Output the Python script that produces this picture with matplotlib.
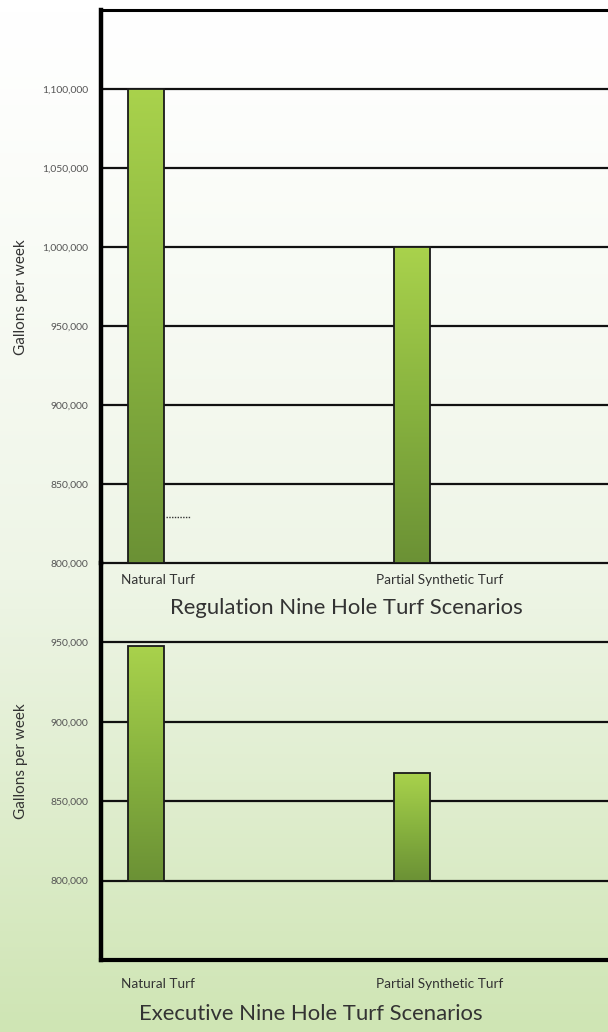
import numpy as np
import matplotlib
matplotlib.use("Agg")
import matplotlib.pyplot as plt
from matplotlib.colors import LinearSegmentedColormap

plt.rcParams['font.family'] = ['Lato', 'DejaVu Sans']

# data
categories = ["Natural Turf", "Partial Synthetic Turf"]
regulation = [1100000, 1000000]
executive = [948000, 868000]
reg_ticks = [800000, 850000, 900000, 950000, 1000000, 1050000, 1100000]
exe_ticks = [800000, 850000, 900000, 950000]
reg_title = "Regulation Nine Hole Turf Scenarios"
exe_title = "Executive Nine Hole Turf Scenarios"
ylabel = "Gallons per week"

W, H = 608, 1032
fig = plt.figure(figsize=(W / 100, H / 100), dpi=100)

# background gradient: white at top, pale green at bottom
bg = fig.add_axes([0, 0, 1, 1], zorder=-10)
ramp = np.linspace(0, 1, 256) ** 1.2
bg_cmap = LinearSegmentedColormap.from_list("bg", ["#ffffff", "#eef5e6", "#cfe5b4"])
bg.imshow(ramp[:, None], aspect="auto", cmap=bg_cmap, extent=[0, 1, 0, 1])
bg.set_axis_off()

bar_cmap = LinearSegmentedColormap.from_list("bar", ["#6b9135", "#88b33f", "#a9d24c"])
x = np.arange(len(categories))
bw = 0.135


def fx(px):
    return px / W


def fy(py):
    return 1 - py / H


def draw_panel(ax, values, ticks, base, top):
    ax.set_facecolor("none")
    for t in ticks:
        ax.axhline(t, color="#111111", lw=1.6, zorder=1, clip_on=False)
    bars = ax.bar(x, [v - ticks[0] for v in values], bottom=ticks[0], width=bw,
                  facecolor="none", edgecolor="#1a1a1a", lw=1.3, zorder=3)
    grad = np.linspace(0, 1, 256)[:, None]
    for b in bars:
        x0, y0 = b.get_x(), b.get_y()
        im = ax.imshow(grad, aspect="auto", cmap=bar_cmap, origin="lower",
                       extent=[x0, x0 + b.get_width(), y0, y0 + b.get_height()], zorder=2)
        im.set_clip_path(b)
    ax.set_xlim(-0.169, 1.759)
    ax.set_ylim(base, top)
    ax.set_yticks(ticks)
    ax.set_yticklabels([f"{t:,}" for t in ticks], fontsize=7.5, color="#555555")
    ax.tick_params(axis="y", length=0, pad=9)
    ax.set_xticks([])
    ax.spines["right"].set_visible(False)
    ax.spines["left"].set_linewidth(3.2)
    ax.spines["left"].set_color("black")


# top panel (regulation)
ax1 = fig.add_axes([fx(101), fy(563), fx(507) + 0.01, fy(10) - fy(563)])
draw_panel(ax1, regulation, reg_ticks, 800000, 1150000)
ax1.spines["bottom"].set_visible(False)
ax1.spines["top"].set_linewidth(2.2)
# stray dotted mark in the original
ax1.plot([0.075, 0.165], [829000, 829000], ls=(0, (1, 1)), color="#333333", lw=1, zorder=4)

# bottom panel (executive)
ax2 = fig.add_axes([fx(101), fy(960), fx(507) + 0.01, fy(563) - fy(960)])
draw_panel(ax2, executive, exe_ticks, 750000, 1000000)
ax2.spines["top"].set_visible(False)
ax2.spines["bottom"].set_linewidth(3.0)

# category labels and panel titles
for cy, ty, title, tx in [(580, 608, reg_title, 346), (984, 1014, exe_title, 311)]:
    fig.text(fx(158), fy(cy), categories[0], ha="center", va="center", fontsize=9.8, color="#333333")
    fig.text(fx(440), fy(cy), categories[1], ha="center", va="center", fontsize=9.8, color="#333333")
    fig.text(fx(tx), fy(ty), title, ha="center", va="center", fontsize=15.9, color="#333333")

fig.text(fx(21), fy(297), ylabel, rotation=90, ha="center", va="center", fontsize=11, color="#333333")
fig.text(fx(21), fy(761), ylabel, rotation=90, ha="center", va="center", fontsize=11, color="#333333")

fig.savefig("out.png", dpi=100)
